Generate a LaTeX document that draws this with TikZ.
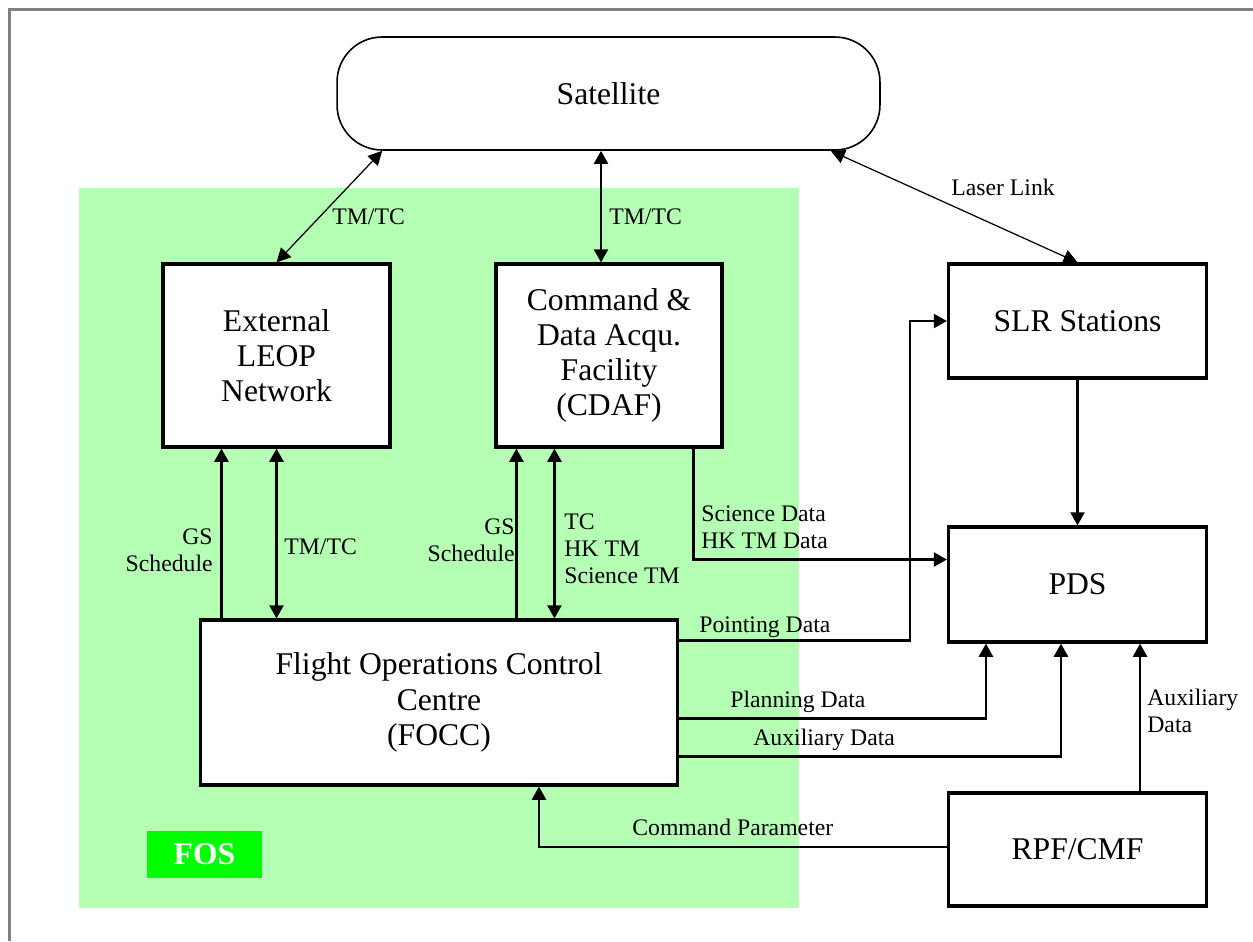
\documentclass[tikz,border=0pt]{standalone}
\usepackage{fontspec}
\setmainfont{Liberation Serif}
\usepackage{xcolor}
\usetikzlibrary{arrows.meta, calc}
\definecolor{verdeFos}{HTML}{B5FFB5}
\definecolor{verdeTag}{HTML}{00FF00}
\definecolor{grigioCornice}{HTML}{808080}
\tikzset{
  blocco/.style = {draw, line width=1.8pt, fill=white, align=center, inner sep=0pt, font=\fontsize{18}{20}\selectfont},
  freccia/.style = {line width=1.3pt, -{Triangle[length=7.5pt,width=8pt]}},
  doppia/.style = {line width=1.3pt, {Triangle[length=7.5pt,width=8pt]}-{Triangle[length=7.5pt,width=8pt]}},
  sottile/.style = {line width=0.7pt, {Triangle[length=8pt,width=8pt]}-{Triangle[length=8pt,width=8pt]}},
  etichetta/.style = {inner sep=0pt, align=left, font=\fontsize{13.5}{15.5}\selectfont}
}

\begin{document}
\begin{tikzpicture}[x = 0.02cm, y = -0.02cm]
    \useasboundingbox (0,0) rectangle (1253,941);
    % Cornice
    \draw[grigioCornice, line width=1.7pt] (9.5,941) -- (9.5,9.5) -- (1253,9.5);
    % Area FOS
    \fill[verdeFos] (79,188) rectangle (799,908);
    \node[fill=verdeTag, text=white, inner sep=0pt, minimum width=2.3cm, minimum height=0.94cm,
          font=\fontsize{18}{20}\selectfont\bfseries] (fos) at (204.5,854.5) {FOS};
    % Blocchi
    \node[blocco, line width=0.9pt, rounded corners=0.9cm, minimum width=10.86cm, minimum height=2.26cm] (sat) at (608.5,93.5) {Satellite};
    \node[blocco, minimum width=4.54cm, minimum height=3.66cm] (leop) at (276.5,355.5) {External\\LEOP\\Network};
    \node[blocco, minimum width=4.52cm, minimum height=3.66cm] (cdaf) at (609,355.5) {Command \&\\Data Acqu.\\Facility\\(CDAF)};
    \node[blocco, minimum width=5.16cm, minimum height=2.28cm] (slr) at (1077.5,321) {SLR Stations};
    \node[blocco, minimum width=5.16cm, minimum height=2.3cm] (pds) at (1077.5,584.5) {PDS};
    \node[blocco, minimum width=9.54cm, minimum height=3.3cm] (focc) at (439,702.5) {Flight Operations Control\\Centre\\(FOCC)};
    \node[blocco, minimum width=5.16cm, minimum height=2.26cm] (rpf) at (1077.5,849.5) {RPF/CMF};
    % Collegamenti col satellite
    \draw[sottile] (leop.north) -- ($(sat.south west)+(46,0)$);
    \coordinate (up) at ($(cdaf.north)+(-8,0)$);
    \draw[doppia] (up) -- (up |- sat.south);
    \draw[sottile] (slr.north) -- ($(sat.south east)+(-50,0)$);
    \node[etichetta, anchor=west] (tmtcA) at (332,217) {TM/TC};
    \node[etichetta, anchor=west] (tmtcB) at (609,217) {TM/TC};
    \node[etichetta] (laser) at (1003,187) {Laser Link};
    % FOCC verso LEOP e CDAF
    \coordinate (gsA) at ($(leop.south west)+(60,0)$);
    \coordinate (gsB) at ($(cdaf.south west)+(22,0)$);
    \coordinate (tcB) at ($(cdaf.south west)+(60,0)$);
    \draw[freccia] (gsA |- focc.north) -- (gsA);
    \draw[doppia] (leop.south) -- (leop.south |- focc.north);
    \draw[freccia] (gsB |- focc.north) -- (gsB);
    \draw[doppia] (tcB) -- (tcB |- focc.north);
    \node[etichetta, anchor=east, align=right] (gsLabA) at (213,550) {GS\\Schedule};
    \node[etichetta, anchor=west] (tmtcC) at (284,547) {TM/TC};
    \node[etichetta, anchor=east, align=right] (gsLabB) at (515,540) {GS\\Schedule};
    \node[etichetta, anchor=west] (tcLab) at (564,549) {TC\\HK TM\\Science TM};
    % Verso PDS e SLR
    \coordinate (sd) at ($(cdaf.south east)+(-30,0)$);
    \draw[freccia] (sd) |- ($(pds.west)+(0,-25)$);
    \coordinate (pt) at ($(slr.west)+(-37,0)$);
    \draw[freccia] ($(focc.north east)+(0,22)$) -| (pt) -- (slr.west);
    \draw[freccia] ($(focc.south east)+(0,-68)$) -| ($(pds.south west)+(39,0)$);
    \draw[freccia] ($(focc.south east)+(0,-30)$) -| ($(pds.south west)+(114,0)$);
    \draw[freccia] ($(rpf.north east)+(-68,0)$) -- ($(pds.south east)+(-68,0)$);
    \draw[freccia] ($(rpf.west)+(0,-2.5)$) -| ($(focc.south west)+(340,0)$);
    \draw[freccia] (slr) -- (pds);
    \node[etichetta, anchor=west] (sdLab) at (701,527) {Science Data\\HK TM Data};
    \node[etichetta, anchor=west] (ptLab) at (699,627) {Pointing Data};
    \node[etichetta, anchor=west] (plLab) at (730,702) {Planning Data};
    \node[etichetta, anchor=west] (auxLab) at (753,740) {Auxiliary Data};
    \node[etichetta, anchor=west] (cmdLab) at (632,827) {Command Parameter};
    \node[etichetta, anchor=west] (auxLabB) at (1147,711) {Auxiliary\\Data};
\end{tikzpicture}
\end{document}
